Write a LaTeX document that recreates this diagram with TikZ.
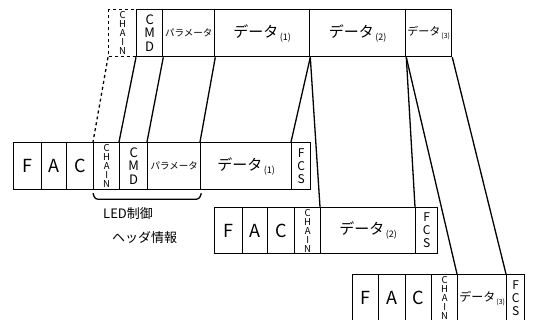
\documentclass[tikz,border=0pt]{standalone}
\usepackage{fontspec}
\setmainfont{Noto Sans CJK JP}
\begin{document}
\begin{tikzpicture}[x=1pt,y=-1pt,
  cell/.style={draw, line width=1.3pt, inner sep=0pt, anchor=north west, align=center},
  big/.style={font=\fontsize{18}{18}\selectfont},
  vchain/.style={font=\fontsize{9.5}{9}\selectfont},
  vcmd/.style={font=\fontsize{13}{13.5}\selectfont},
  vfcs/.style={font=\fontsize{12}{13}\selectfont},
  link/.style={line width=1.3pt}]
\useasboundingbox (0,0) rectangle (538,320);
\newcommand\dat[3]{{\fontsize{#1}{#1}\selectfont データ}\raisebox{-3pt}{\fontsize{#2}{#2}\selectfont\,(#3)}}
\newcommand\prm[1]{{\fontsize{#1}{#1}\selectfont パラメータ}}
% row 1
\node[cell, dashed, vchain, minimum width=28, minimum height=47] (tchain) at (108,9) {C\\H\\A\\I\\N};
\node[cell, vcmd, minimum width=26, minimum height=47] (tcmd) at (136,9) {C\\M\\D};
\node[cell, minimum width=52, minimum height=47] (tparam) at (162,9) {\prm{9.5}};
\node[cell, minimum width=95, minimum height=47] (td1) at (214,9) {\dat{15}{9}{1}};
\node[cell, minimum width=96, minimum height=47] (td2) at (309,9) {\dat{15}{9}{2}};
\node[cell, minimum width=46, minimum height=47] (td3) at (405,9) {\dat{11}{7}{3}};
% row 2
\node[cell, big, minimum width=28, minimum height=47] (af) at (13,142) {F};
\node[cell, big, minimum width=25, minimum height=47] (aa) at (41,142) {A};
\node[cell, big, minimum width=27, minimum height=47] (ac) at (66,142) {C};
\node[cell, vchain, minimum width=26, minimum height=47] (achain) at (93,142) {C\\H\\A\\I\\N};
\node[cell, vcmd, minimum width=28, minimum height=47] (acmd) at (119,142) {C\\M\\D};
\node[cell, minimum width=53, minimum height=47] (aparam) at (147,142) {\prm{9.5}};
\node[cell, minimum width=91, minimum height=47] (ad1) at (200,142) {\dat{15}{9}{1}};
\node[cell, vfcs, minimum width=19, minimum height=47] (afcs) at (291,142) {F\\C\\S};
% row 3
\node[cell, big, minimum width=28, minimum height=46] (bf) at (214,207) {F};
\node[cell, big, minimum width=25, minimum height=46] (ba) at (242,207) {A};
\node[cell, big, minimum width=27, minimum height=46] (bc) at (267,207) {C};
\node[cell, vchain, minimum width=26, minimum height=46] (bchain) at (294,207) {C\\H\\A\\I\\N};
\node[cell, minimum width=95, minimum height=46] (bd2) at (320,207) {\dat{15}{9}{2}};
\node[cell, vfcs, minimum width=22, minimum height=46] (bfcs) at (415,207) {F\\C\\S};
% row 4
\node[cell, big, minimum width=26, minimum height=47] (cf) at (352,274) {F};
\node[cell, big, minimum width=27, minimum height=47] (ca) at (378,274) {A};
\node[cell, big, minimum width=26, minimum height=47] (cc) at (405,274) {C};
\node[cell, vchain, minimum width=26, minimum height=47] (cchain) at (431,274) {C\\H\\A\\I\\N};
\node[cell, minimum width=49, minimum height=47] (cd3) at (457,274) {\dat{12}{7}{3}};
\node[cell, vfcs, minimum width=18, minimum height=47] (cfcs) at (506,274) {F\\C\\S};
% connectors
\draw[link, dashed] (tchain.south west) -- (achain.north west);
\draw[link] (tcmd.south west) -- (acmd.north west);
\draw[link] (tcmd.south east) -- (aparam.north west);
\draw[link] (tparam.south east) -- (ad1.north west);
\draw[link] (td1.south east) -- (afcs.north west);
\draw[link] (td1.south east) -- (bd2.north west);
\draw[link] (td2.south east) -- (bfcs.north west);
\draw[link] (td2.south east) -- (cd3.north west);
\draw[link] (td3.south east) -- (cfcs.north west);
% bracket
\coordinate (bl) at ([yshift=-3pt]achain.south west);
\coordinate (br) at ([yshift=-3pt]aparam.south east);
\draw[link, rounded corners=3pt] (bl) -- ++(2,6) -- ([xshift=-2pt,yshift=-6pt]br) -- (br);
\node[anchor=north west, align=left, inner sep=0pt, font=\fontsize{13}{24}\selectfont] (lbl) at (103,207) {LED制御\\\hspace{9pt}ヘッダ情報};
\end{tikzpicture}
\end{document}
